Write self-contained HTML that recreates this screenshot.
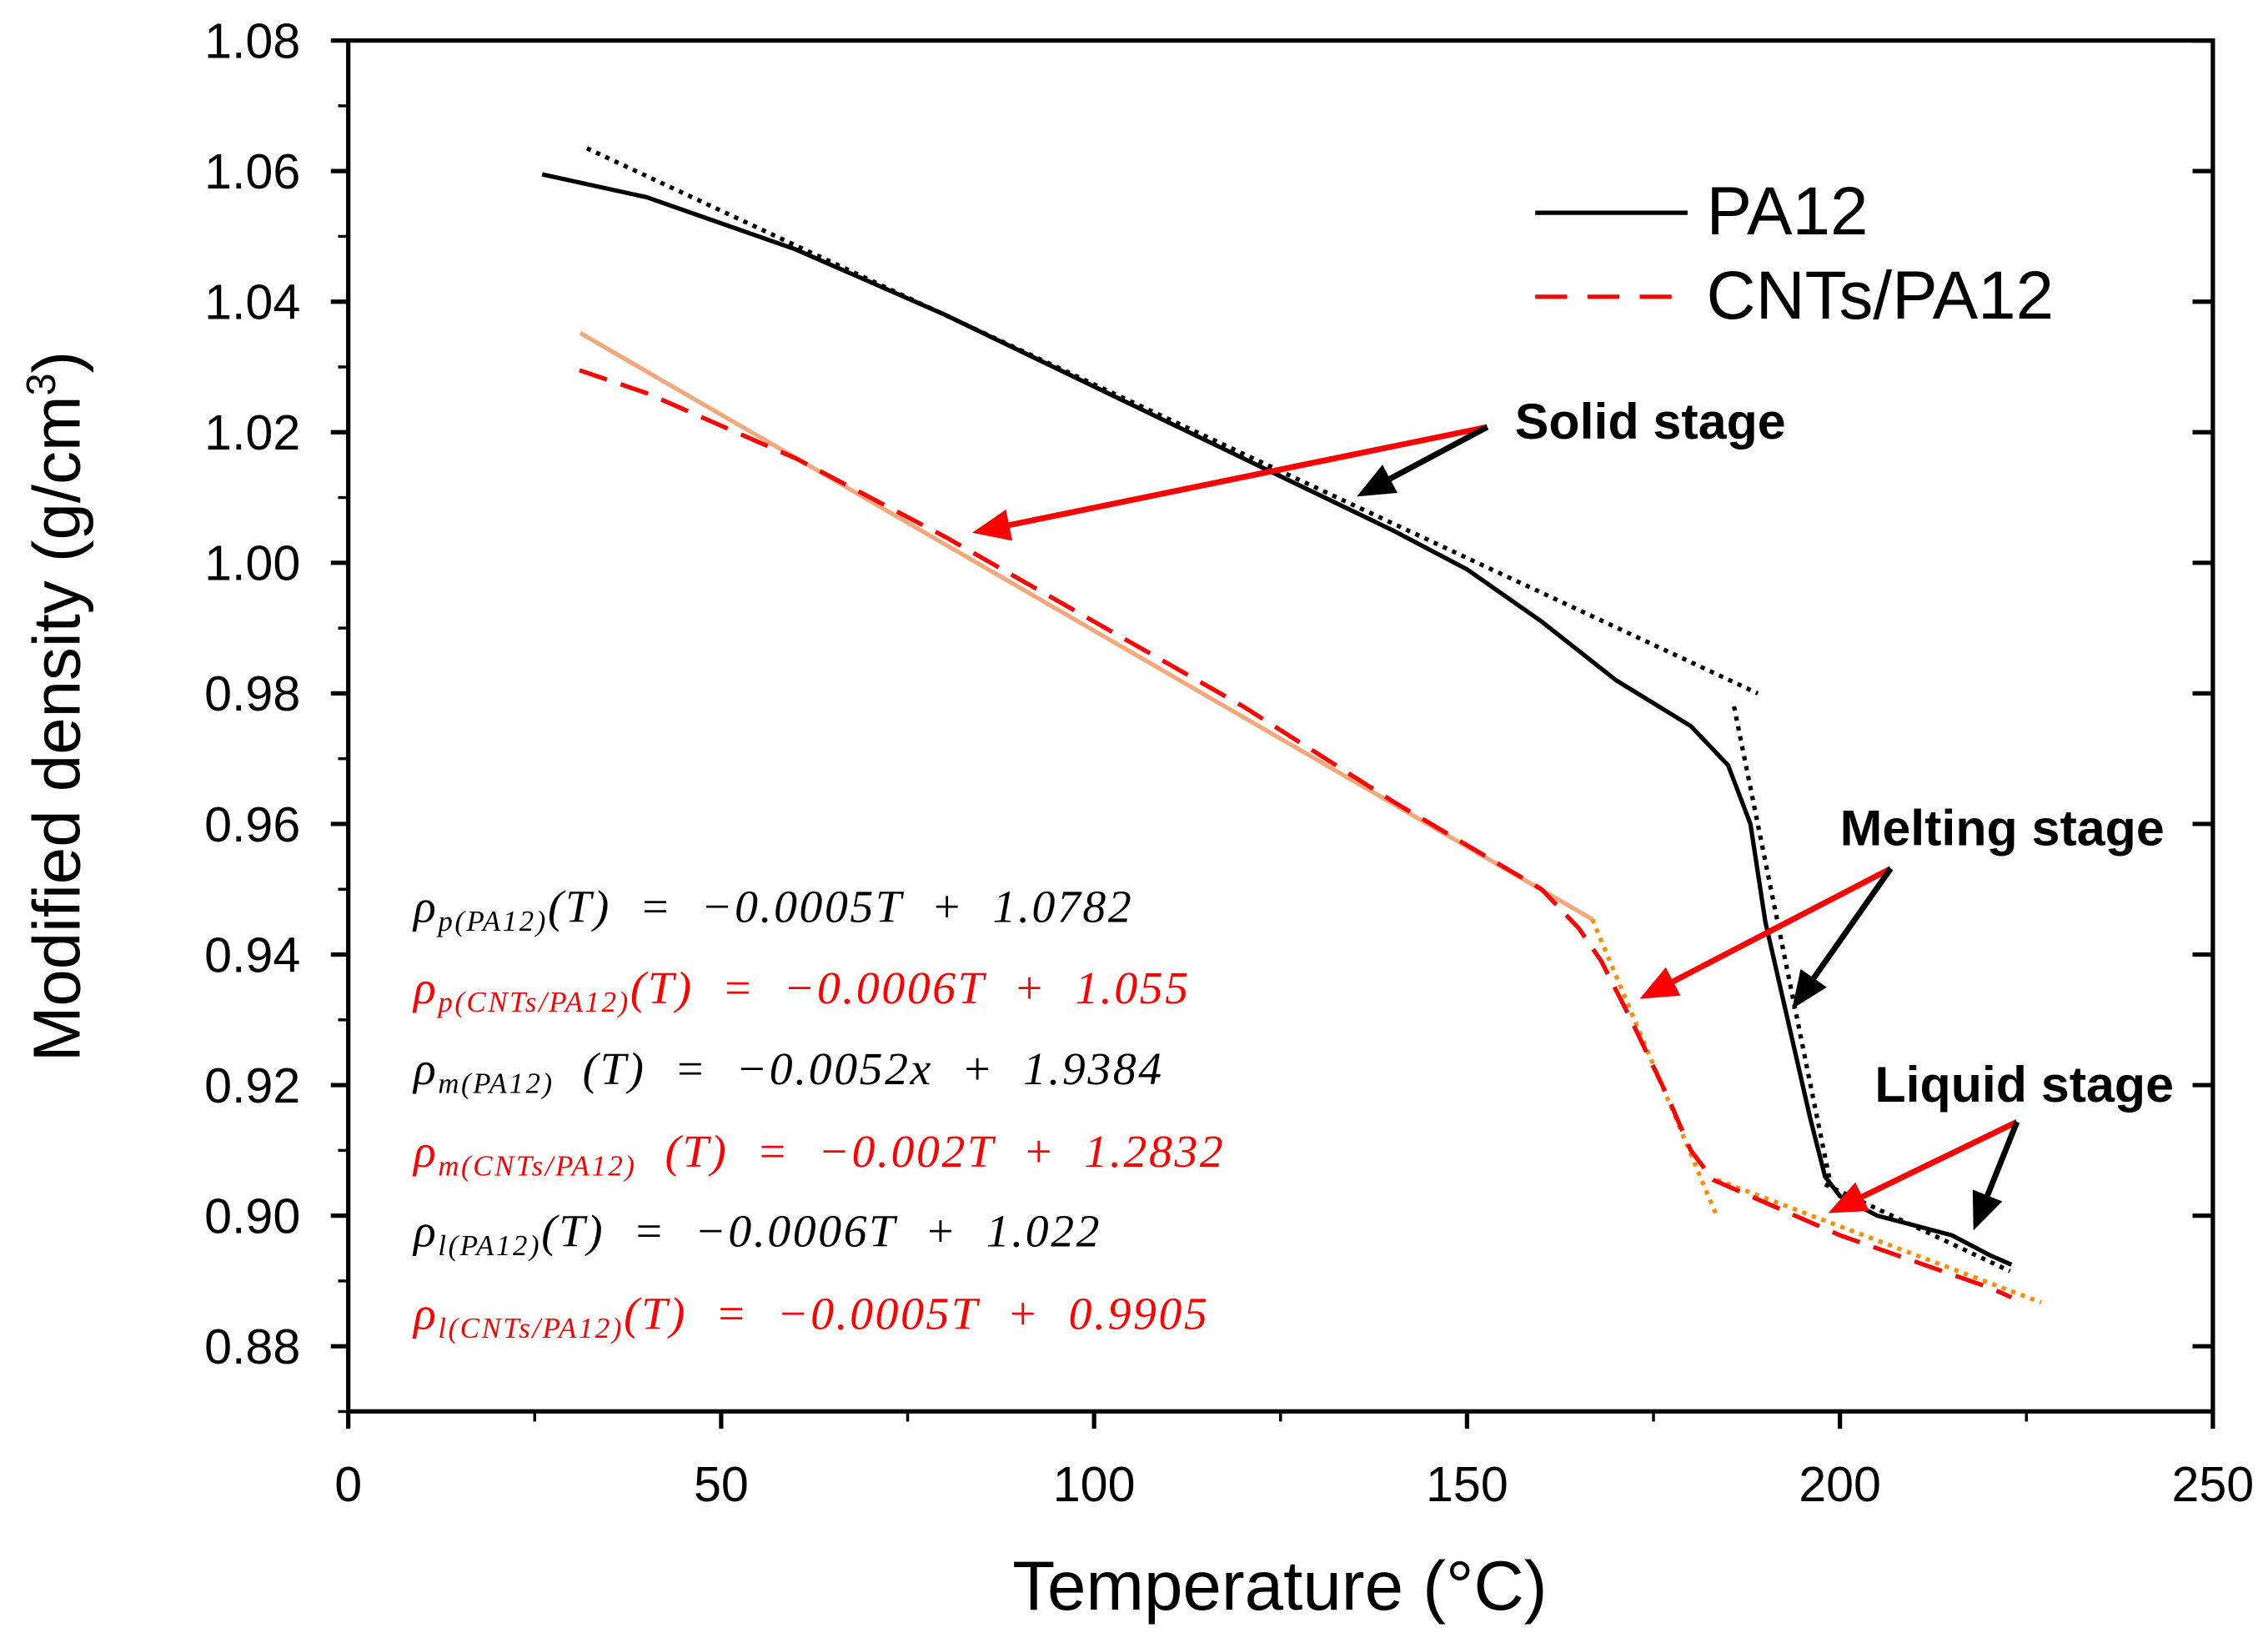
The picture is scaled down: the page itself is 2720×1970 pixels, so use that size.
<!DOCTYPE html>
<html><head><meta charset="utf-8"><style>html,body{margin:0;padding:0;background:#fff}svg{display:block}</style></head>
<body>
<svg id="chart" width="2720" height="1970" viewBox="0 0 1563 1135" preserveAspectRatio="none" xmlns="http://www.w3.org/2000/svg" font-family="Liberation Sans, sans-serif">
<rect width="1563" height="1135" fill="#fff"/>
<g id="axes"></g>
<g id="series"></g>
<g>
 <line x1="1058" y1="147" x2="1163" y2="147" stroke="#000" stroke-width="3"/>
 <text x="1176" y="162" font-size="47">PA12</text>
 <line x1="1058" y1="205" x2="1163" y2="205" stroke="#f00" stroke-width="3" stroke-dasharray="22,14"/>
 <text x="1176" y="220" font-size="47">CNTs/PA12</text>
</g>
<g font-weight="bold" font-size="35">
 <text x="1044" y="303">Solid stage</text>
 <text x="1268" y="584">Melting stage</text>
 <text x="1292" y="761">Liquid stage</text>
</g>
<g font-family="Liberation Serif, serif" font-style="italic" font-size="32" letter-spacing="1.5" word-spacing="10">
 <text x="285" y="637" fill="#000">ρ<tspan font-size="20" dy="6">p(PA12)</tspan><tspan dy="-6">(T) = −0.0005T + 1.0782</tspan></text>
 <text x="285" y="693" fill="#f00">ρ<tspan font-size="20" dy="6">p(CNTs/PA12)</tspan><tspan dy="-6">(T) = −0.0006T + 1.055</tspan></text>
 <text x="285" y="749" fill="#000">ρ<tspan font-size="20" dy="6">m(PA12)</tspan><tspan dy="-6"> (T) = −0.0052x + 1.9384</tspan></text>
 <text x="285" y="806" fill="#f00">ρ<tspan font-size="20" dy="6">m(CNTs/PA12)</tspan><tspan dy="-6"> (T) = −0.002T + 1.2832</tspan></text>
 <text x="285" y="861" fill="#000">ρ<tspan font-size="20" dy="6">l(PA12)</tspan><tspan dy="-6">(T) = −0.0006T + 1.022</tspan></text>
 <text x="285" y="918" fill="#f00">ρ<tspan font-size="20" dy="6">l(CNTs/PA12)</tspan><tspan dy="-6">(T) = −0.0005T + 0.9905</tspan></text>
</g>
<g id="arrows"></g>
<text x="882" y="1112" font-size="48" text-anchor="middle">Temperature (°C)</text>
<text transform="translate(55,488) rotate(-90)" font-size="46" text-anchor="middle">Modified density (g/cm<tspan font-size="28" dy="-17">3</tspan><tspan dy="17">)</tspan></text>
</svg>
<script>
const xTicks=[0,50,100,150,200,250];
const yTicks=[0.88,0.90,0.92,0.94,0.96,0.98,1.00,1.02,1.04,1.06,1.08];
const pa12T=[26,40,60,80,100,120,140,150,160,170,180,185,188,190,193,196,198,200,205,215,220,223];
const pa12Rho=[1.0595,1.056,1.048,1.038,1.027,1.016,1.005,0.999,0.991,0.982,0.975,0.969,0.960,0.945,0.930,0.915,0.906,0.903,0.900,0.897,0.894,0.8925];
const cntT=[31,40,50,60,80,100,120,140,160,165,168,172,177,180,183,190,200,210,220,223];
const cntRho=[1.0295,1.026,1.021,1.016,1.004,0.991,0.978,0.9635,0.950,0.944,0.939,0.930,0.918,0.910,0.9055,0.902,0.897,0.893,0.889,0.8875];
const fitPa12Solid=[[32,1.0635],[189,0.980]];
const fitPa12Melt=[[185.8,0.978],[198.8,0.9045]];
const fitPa12Liquid=[[198,0.9048],[222.8,0.8915]];
const fitCntSolid=[[31.1,1.0352],[166.8,0.9454]];
const fitCntMelt=[[166.8,0.9454],[183.5,0.8999]];
const fitCntLiquid=[[183.5,0.9055],[227,0.8867]];
const X0=240,X1=1525,Y0=975,YT=28;
const xs=t=>X0+t/250*(X1-X0);
const ys=r=>28+(1.08-r)/0.2*902;
const NS='http://www.w3.org/2000/svg';
function mk(tag,attrs,parent){const e=document.createElementNS(NS,tag);for(const k in attrs)e.setAttribute(k,attrs[k]);parent.appendChild(e);return e;}
const ax=document.getElementById('axes');
const frame=mk('rect',{x:X0,y:YT,width:X1-X0,height:Y0-YT,fill:'none',stroke:'#000','stroke-width':3},ax);


xTicks.forEach((t,i)=>{
 const l=mk('line',{x1:xs(t),x2:xs(t),y1:Y0,y2:Y0+12,stroke:'#000','stroke-width':3},ax);
 
 
 const tx=mk('text',{x:xs(t),y:1037,'font-size':34,'text-anchor':'middle'},ax);tx.textContent=t;
 
 
 if(i<xTicks.length-1){const m=mk('line',{x1:xs(t+25),x2:xs(t+25),y1:Y0,y2:Y0+7,stroke:'#000','stroke-width':2},ax);
 
 }
});
yTicks.forEach((r,i)=>{
 const l=mk('line',{x1:X0-12,x2:X0,y1:ys(r),y2:ys(r),stroke:'#000','stroke-width':3},ax);
 
 
 const l2=mk('line',{x1:X1-14,x2:X1,y1:ys(r),y2:ys(r),stroke:'#000','stroke-width':3},ax);
 
 
 const tx=mk('text',{x:207,y:ys(r)+12,'font-size':34,'text-anchor':'end'},ax);tx.textContent=r.toFixed(2);
 
 
 const m=mk('line',{x1:X0-7,x2:X0,y1:ys(r-0.01),y2:ys(r-0.01),stroke:'#000','stroke-width':2},ax);
 
 
});
const sg=document.getElementById('series');
function poly(T,R,st,name){const p=mk('polyline',Object.assign({points:T.map((t,i)=>xs(t)+','+ys(R[i])).join(' '),fill:'none','stroke-linejoin':'round'},st),sg);
 
 }
function seg(pts,st,name){poly(pts.map(p=>p[0]),pts.map(p=>p[1]),st,name);}
seg(fitCntSolid,{stroke:'#f4a77a','stroke-width':3},'fit-cnts-solid');
seg(fitCntMelt,{stroke:'#ff8c00','stroke-width':3,'stroke-dasharray':'3,4'},'fit-cnts-melt');
seg(fitCntLiquid,{stroke:'#ff8c00','stroke-width':3,'stroke-dasharray':'3,4'},'fit-cnts-liquid');
poly(cntT,cntRho,{stroke:'#f00','stroke-width':3,'stroke-dasharray':'20,10'},'cnts-pa12-curve');
poly(pa12T,pa12Rho,{stroke:'#000','stroke-width':3},'pa12-curve');
seg(fitPa12Solid,{stroke:'#000','stroke-width':3,'stroke-dasharray':'3,4'},'fit-pa12-solid');
seg(fitPa12Melt,{stroke:'#000','stroke-width':3,'stroke-dasharray':'3,4'},'fit-pa12-melt');
seg(fitPa12Liquid,{stroke:'#000','stroke-width':3,'stroke-dasharray':'3,4'},'fit-pa12-liquid');
const ag=document.getElementById('arrows');
function arrow(x1,y1,x2,y2,c,name){
 const a=Math.atan2(y2-y1,x2-x1),L=26,W=11;
 const bx=x2-L*Math.cos(a),by=y2-L*Math.sin(a);
 const l=mk('line',{x1,y1,x2:bx,y2:by,stroke:c,'stroke-width':4},ag);
 
 
 const h=mk('polygon',{points:`${x2},${y2} ${bx-W*Math.sin(a)},${by+W*Math.cos(a)} ${bx+W*Math.sin(a)},${by-W*Math.cos(a)}`,fill:c},ag);
 
 
}
arrow(1025,295,670,368,'#f00','solid-red-arrow');
arrow(1025,295,935,343,'#000','solid-black-arrow');
arrow(1303,600,1130,690,'#f00','melting-red-arrow');
arrow(1303,600,1235,697,'#000','melting-black-arrow');
arrow(1390,775,1260,838,'#f00','liquid-red-arrow');
arrow(1390,775,1360,850,'#000','liquid-black-arrow');
</script>
</body></html>
